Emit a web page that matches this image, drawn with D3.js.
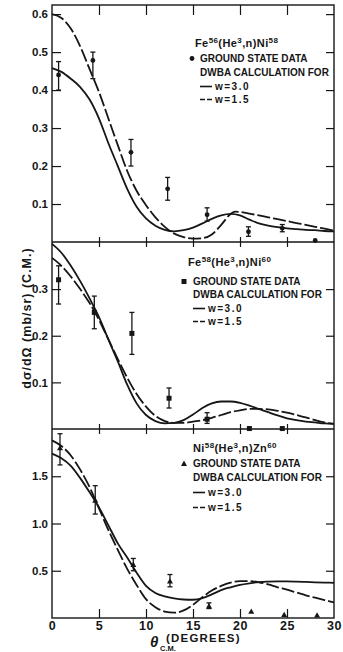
<!DOCTYPE html>
<html><head><meta charset="utf-8">
<script src="https://cdn.jsdelivr.net/npm/d3@7"></script>
<style>body{margin:0;background:#fff}svg{display:block}</style>
</head><body>
<svg id="c" width="343" height="652"></svg>
<script>
// ---------- data ----------
const thetaGrid = [0,1,2,3,4,5,6,7,8,9,10,11,12,13,14,15,16,17,18,19,20,21,22,23,24,25,26,27,28,29,30];
const thetaGridKink = [0,1,2,3,4,5,6,7,8,9,10,11,12,13,14,15,16,17,18,19,19.5,20,21,22,23,24,25,26,27,28,29,30];
const thetaTicks = [0,5,10,15,20,25,30];
const thetaInnerTicks = [5,10,15,20,25];

// Panel 1: Fe56(He3,n)Ni58
const fe56W30 = [0.458,0.448,0.43,0.408,0.375,0.325,0.26,0.2,0.14,0.093,0.062,0.043,0.032,0.028,0.031,0.038,0.049,0.061,0.07,0.074,0.07,0.059,0.049,0.043,0.039,0.036,0.034,0.032,0.031,0.029,0.028];
const fe56W15 = [0.60,0.59,0.562,0.515,0.455,0.395,0.325,0.255,0.187,0.135,0.097,0.065,0.04,0.022,0.013,0.009,0.01,0.02,0.045,0.074,0.08,0.079,0.075,0.07,0.065,0.06,0.055,0.05,0.045,0.04,0.035,0.03];
const fe56Data = [[0.7,0.44,0.40,0.475],[4.35,0.478,0.43,0.50],[8.4,0.236,0.20,0.27],[12.3,0.14,0.11,0.17],[16.5,0.072,0.055,0.09],[20.9,0.027,0.015,0.04],[24.5,0.036,0.027,0.046],[28.0,0.004,null,null]];
const fe56Ticks = [0.1,0.2,0.3,0.4,0.5,0.6];

// Panel 2: Fe58(He3,n)Ni60
const fe58W30 = [0.397,0.378,0.35,0.317,0.28,0.24,0.192,0.145,0.095,0.055,0.03,0.017,0.012,0.013,0.019,0.031,0.045,0.055,0.059,0.059,0.056,0.05,0.043,0.036,0.029,0.023,0.019,0.016,0.014,0.012,0.011];
const fe58W15 = [0.367,0.35,0.327,0.3,0.27,0.234,0.192,0.15,0.11,0.075,0.048,0.028,0.017,0.013,0.013,0.016,0.019,0.024,0.03,0.036,0.04,0.043,0.043,0.042,0.039,0.035,0.03,0.025,0.019,0.014,0.011];
const fe58Data = [[0.7,0.32,0.268,0.35],[4.5,0.25,0.215,0.285],[8.5,0.205,0.16,0.25],[12.45,0.066,0.045,0.088],[16.5,0.021,0.012,0.035],[21.0,0.001,null,null],[24.5,0.001,null,null]];
const fe58Ticks = [0.1,0.2,0.3];

// Panel 3: Ni58(He3,n)Zn60
const ni58W30 = [1.74,1.69,1.61,1.48,1.33,1.17,0.98,0.79,0.64,0.48,0.34,0.265,0.228,0.207,0.196,0.193,0.21,0.25,0.295,0.325,0.35,0.367,0.38,0.385,0.387,0.387,0.385,0.382,0.378,0.375,0.372];
const ni58W15 = [1.88,1.82,1.72,1.57,1.385,1.16,0.93,0.72,0.52,0.35,0.2,0.115,0.068,0.056,0.08,0.14,0.22,0.29,0.34,0.375,0.39,0.39,0.378,0.355,0.325,0.3,0.27,0.24,0.215,0.19,0.165];
const ni58Data = [[0.85,1.8,1.62,1.95],[4.6,1.245,1.1,1.4],[8.65,0.566,0.5,0.63],[12.55,0.39,0.33,0.46],[16.7,0.127,0.1,0.16],[21.2,0.07,null,null],[24.7,0.035,null,null],[28.2,0.03,null,null]];
const ni58Ticks = [0.5,1.0,1.5];

const legendTitles = [
  [["Fe",""],["56","sup"],["(He",""],["3","sup"],[",n)",""],["Ni",""],["58","sup"]],
  [["Fe",""],["58","sup"],["(He",""],["3","sup"],[",n)",""],["Ni",""],["60","sup"]],
  [["Ni",""],["58","sup"],["(He",""],["3","sup"],[",n)",""],["Zn",""],["60","sup"]]
];
const legendRows = ["GROUND STATE DATA","DWBA CALCULATION FOR","w=3.0","w=1.5"];

// ---------- layout ----------
const svg = d3.select("#c");
const X0 = 52, X1 = 334;
const ink = "#161616";
const x = d3.scaleLinear().domain([0,30]).range([X0, X1]);

const panels = [
  {top:5, bottom:242, ymax:0.624, w30:fe56W30, w15:fe56W15, t15:thetaGridKink, data:fe56Data, ticks:fe56Ticks, marker:"circle",
   leg:{tx:195, x:200, mx:192, ty:47, rows:[62,76,90,103]}, title:legendTitles[0]},
  {top:242, bottom:429, ymax:0.401, w30:fe58W30, w15:fe58W15, t15:thetaGrid, data:fe58Data, ticks:fe58Ticks, marker:"square",
   leg:{tx:188, x:193, mx:184, ty:266, rows:[285,298,312,325]}, title:legendTitles[1]},
  {top:429, bottom:618, ymax:2.0, w30:ni58W30, w15:ni58W15, t15:thetaGrid, data:ni58Data, ticks:ni58Ticks, marker:"triangle",
   leg:{tx:193, x:193, mx:184, ty:452, rows:[467,481,496,511]}, title:legendTitles[2]}
];

const font = "'Liberation Sans', Arial, sans-serif";
const fmt = d3.format(".1f");

function marker(g, type, cx, cy){
  if(type==="circle") g.append("circle").attr("cx",cx).attr("cy",cy).attr("r",2.4).attr("fill",ink);
  else if(type==="square") g.append("rect").attr("x",cx-2.5).attr("y",cy-2.5).attr("width",5).attr("height",5).attr("fill",ink);
  else g.append("path").attr("d",`M${cx},${cy-3}L${cx+3},${cy+2.4}L${cx-3},${cy+2.4}Z`).attr("fill",ink);
}

panels.forEach((p, i) => {
  const y = d3.scaleLinear().domain([0, p.ymax]).range([p.bottom, p.top]);
  const g = svg.append("g");

  const la = g.append("g").attr("transform",`translate(${X0},0)`)
    .call(d3.axisLeft(y).tickValues(p.ticks).tickSize(-9).tickPadding(4).tickFormat(fmt));
  la.select(".domain").remove();
  la.selectAll("line").attr("stroke",ink).attr("stroke-width",1.2);
  la.selectAll("text").attr("font-family",font).attr("font-weight","bold").attr("font-size",11.5).attr("fill",ink);

  const ra = g.append("g").attr("transform",`translate(${X1},0)`)
    .call(d3.axisRight(y).tickValues(p.ticks).tickSize(-8).tickFormat(""));
  ra.select(".domain").remove();
  ra.selectAll("line").attr("stroke",ink).attr("stroke-width",1.2);

  if(i===0){
    const ta = g.append("g").attr("transform",`translate(0,${p.top})`)
      .call(d3.axisTop(x).tickValues(thetaInnerTicks).tickSize(-10).tickFormat(""));
    ta.select(".domain").remove();
    ta.selectAll("line").attr("stroke",ink).attr("stroke-width",1.2);
  }
  if(i<2){
    [d3.axisTop(x), d3.axisBottom(x)].forEach(ax => {
      const a = g.append("g").attr("transform",`translate(0,${p.bottom})`)
        .call(ax.tickValues(thetaInnerTicks).tickSize(5).tickFormat(""));
      a.select(".domain").remove();
      a.selectAll("line").attr("stroke",ink).attr("stroke-width",1.2);
    });
  } else {
    const ba = g.append("g").attr("transform",`translate(0,${p.bottom})`)
      .call(d3.axisBottom(x).tickValues(thetaInnerTicks).tickSize(-9).tickFormat(""));
    ba.select(".domain").remove();
    ba.selectAll("line").attr("stroke",ink).attr("stroke-width",1.2);
    const bl = g.append("g").attr("transform",`translate(0,${p.bottom})`)
      .call(d3.axisBottom(x).tickValues(thetaTicks).tickSize(0).tickPadding(3).tickFormat(d3.format("d")));
    bl.select(".domain").remove();
    bl.selectAll("text").attr("font-family",font).attr("font-weight","bold").attr("font-size",12.5)
      .attr("letter-spacing",0.5).attr("fill",ink);
  }

  const line = d3.line().curve(d3.curveMonotoneX);
  g.append("path").attr("d", line(thetaGrid.map((t,k)=>[x(t), y(p.w30[k])])))
    .attr("fill","none").attr("stroke",ink).attr("stroke-width",1.8);
  g.append("path").attr("d", line(p.t15.map((t,k)=>[x(t), y(p.w15[k])])))
    .attr("fill","none").attr("stroke",ink).attr("stroke-width",1.8).attr("stroke-dasharray","13,3");

  p.data.forEach(d => {
    const cx = x(d[0]);
    if(d[2]!==null){
      g.append("line").attr("x1",cx).attr("x2",cx).attr("y1",y(d[2])).attr("y2",y(d[3])).attr("stroke",ink).attr("stroke-width",1.3);
      [d[2],d[3]].forEach(v => g.append("line").attr("x1",cx-2.5).attr("x2",cx+2.5).attr("y1",y(v)).attr("y2",y(v)).attr("stroke",ink).attr("stroke-width",1.3));
    }
    marker(g, p.marker, cx, y(d[1]));
  });

  // legend
  const L = p.leg;
  const tt = g.append("text").attr("x",L.tx).attr("y",L.ty).attr("font-family",font).attr("font-weight","bold")
    .attr("font-size",11).attr("letter-spacing",0.4).attr("fill",ink);
  let raised = false;
  p.title.forEach(s => {
    const ts = tt.append("tspan").text(s[0]);
    if(s[1]==="sup"){ ts.attr("font-size",8).attr("dy", raised ? 0 : -4.5); raised = true; }
    else { ts.attr("dy", raised ? 4.5 : 0); raised = false; }
  });
  marker(g, p.marker, L.mx, L.rows[0]-3.5);
  legendRows.forEach((r,k) => {
    const isW = k>=2;
    g.append("text").attr("x", isW ? L.x+15 : L.x).attr("y", L.rows[k]).text(r)
      .attr("font-family",font).attr("font-weight","bold").attr("font-size",10)
      .attr("letter-spacing", isW ? 1.5 : 0).attr("fill",ink);
    if(isW){
      g.append("line").attr("x1",L.x).attr("x2",L.x+12).attr("y1",L.rows[k]-3.5).attr("y2",L.rows[k]-3.5)
        .attr("stroke",ink).attr("stroke-width",1.6).attr("stroke-dasharray", k===3 ? "5,2" : null);
    }
  });
});

// frame
svg.append("rect").attr("x",X0).attr("y",5).attr("width",X1-X0).attr("height",613)
  .attr("fill","none").attr("stroke",ink).attr("stroke-width",1.4);
[242,429].forEach(yy => svg.append("line").attr("x1",X0).attr("x2",X1).attr("y1",yy).attr("y2",yy).attr("stroke",ink).attr("stroke-width",1.4));

// axis titles
svg.append("text").attr("transform","translate(31,318) rotate(-90)").attr("text-anchor","middle")
  .attr("font-family",font).attr("font-weight","bold").attr("font-size",12.5).attr("letter-spacing",1).attr("fill",ink)
  .text("dσ/dΩ (mb/sr) (C.M.)");
svg.append("text").attr("x",150).attr("y",647).attr("font-family",font).attr("font-weight","bold").attr("font-style","italic")
  .attr("font-size",15).attr("fill",ink).text("θ");
svg.append("text").attr("x",160).attr("y",651).attr("font-family",font).attr("font-weight","bold")
  .attr("font-size",7.5).attr("fill",ink).text("C.M.");
svg.append("text").attr("x",166).attr("y",642).attr("font-family",font).attr("font-weight","bold")
  .attr("font-size",11.5).attr("letter-spacing",1.2).attr("fill",ink).text("(DEGREES)");
</script>
</body></html>
